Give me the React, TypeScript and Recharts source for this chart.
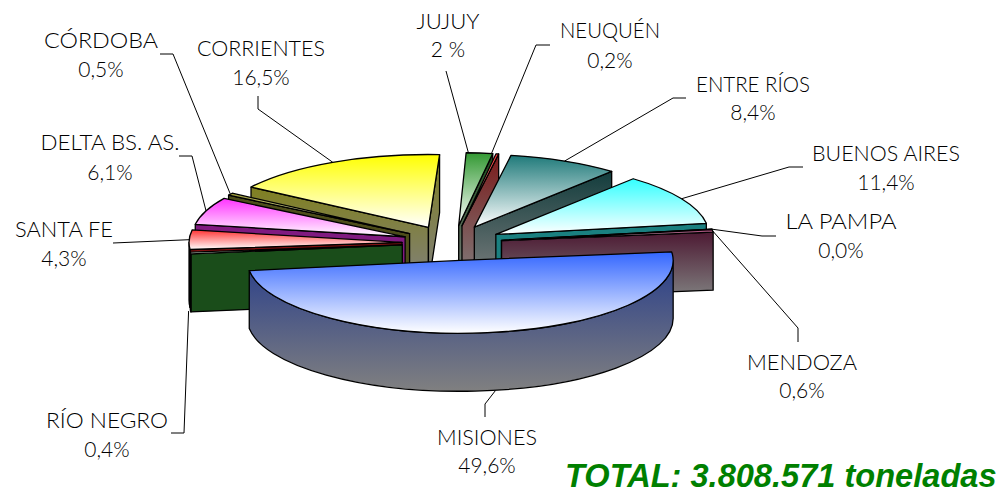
import React from "react";
import { PieChart, Pie } from "recharts";

// ---- data (in % of total) ----
const rightNames = ["JUJUY", "NEUQUÉN", "ENTRE RÍOS", "BUENOS AIRES", "LA PAMPA", "MENDOZA", "MISIONES"];
const rightValues = [2, 0.2, 8.4, 11.4, 0, 0.6, 49.6];
const rightLabels = ["2 %", "0,2%", "8,4%", "11,4%", "0,0%", "0,6%", "49,6%"];
const leftNames = ["CORRIENTES", "CÓRDOBA", "DELTA BS. AS.", "SANTA FE", "RÍO NEGRO"];
const leftValues = [16.5, 0.5, 6.1, 4.3, 0.4];
const leftLabels = ["16,5%", "0,5%", "6,1%", "4,3%", "0,4%"];
const totalText = "TOTAL: 3.808.571 toneladas";

// ---- styles ----
type Style = { top: string; side: string; sideEnd: string };
const styles: Record<string, Style> = {
  "JUJUY": { top: "#339933", side: "#1a4d1a", sideEnd: "#808080" },
  "NEUQUÉN": { top: "#ff3333", side: "#7a1a1a", sideEnd: "#808080" },
  "ENTRE RÍOS": { top: "#1f7a7a", side: "#133d3d", sideEnd: "#808080" },
  "BUENOS AIRES": { top: "#33ffff", side: "#1a8080", sideEnd: "#1a8080" },
  "LA PAMPA": { top: "#666699", side: "#333366", sideEnd: "#333366" },
  "MENDOZA": { top: "#993366", side: "#4d1a33", sideEnd: "#808080" },
  "MISIONES": { top: "#3366ff", side: "#2a3f8a", sideEnd: "#808080" },
  "CORRIENTES": { top: "#ffff00", side: "#808020", sideEnd: "#808080" },
  "CÓRDOBA": { top: "#999933", side: "#4d4d1a", sideEnd: "#4d4d1a" },
  "DELTA BS. AS.": { top: "#ff33ff", side: "#801a80", sideEnd: "#801a80" },
  "SANTA FE": { top: "#ff3333", side: "#801010", sideEnd: "#801010" },
  "RÍO NEGRO": { top: "#339933", side: "#1a4d1a", sideEnd: "#1a4d1a" },
};

// label layout: text centre, two baselines, name width, leader elbow points (outer end first)
type Lay = { x: number; y1: number; y2: number; w: number; leader: number[][]; wall?: boolean; dx?: number };
const layout: Record<string, Lay> = {
  "CÓRDOBA": { x: 101, y1: 48, y2: 77, w: 114, leader: [[160, 54], [173, 54]] },
  "CORRIENTES": { x: 261, y1: 56, y2: 85, w: 128, leader: [[258, 96], [258, 109]] },
  "DELTA BS. AS.": { x: 110, y1: 150, y2: 180, w: 139, leader: [[179, 156], [192, 156]] },
  "SANTA FE": { x: 64, y1: 237, y2: 266, w: 98, leader: [[113, 243]] },
  "JUJUY": { x: 448, y1: 29, y2: 57, w: 63, leader: [[446, 71]], dx: -11 },
  "NEUQUÉN": { x: 610, y1: 38, y2: 68, w: 100, leader: [[550, 45], [536, 45]], dx: -6 },
  "ENTRE RÍOS": { x: 753, y1: 92, y2: 120, w: 114, leader: [[686, 98], [673, 98]] },
  "BUENOS AIRES": { x: 886, y1: 161, y2: 190, w: 148, leader: [[803, 167], [789, 167]] },
  "LA PAMPA": { x: 841, y1: 229, y2: 258, w: 111, leader: [[776, 236], [762, 236]] },
  "MENDOZA": { x: 802, y1: 370, y2: 398, w: 110, leader: [[798, 342], [798, 328]] },
  "RÍO NEGRO": { x: 107, y1: 428, y2: 457, w: 122, leader: [[171, 433], [184, 433]], wall: true, dx: -2 },
  "MISIONES": { x: 487, y1: 445, y2: 473, w: 100, leader: [[485, 417], [485, 404]], wall: true, dx: 8 },
};

const CX = 454, CY = 243, LEFT_SHIFT = 4, R = 213, K = 0.342, KE = 0.365, EXPLODE = 48, DEPTH = 58;
const FONT = "Lato, 'Open Sans', sans-serif";
const rad = (d: number) => (d * Math.PI) / 180;

const geom = (p: any) => {
  let a = 90 - p.startAngle, b = 90 - p.endAngle;
  let lo = Math.min(a, b), hi = Math.max(a, b);
  if (lo < 0) { lo += 360; hi += 360; }
  const mid = (lo + hi) / 2;
  const ax = p.cx + EXPLODE * Math.sin(rad(mid));
  const ay = p.cy - EXPLODE * KE * Math.cos(rad(mid));
  const pt = (t: number, dz = 0): [number, number] => [
    ax + p.outerRadius * Math.sin(rad(t)),
    ay - p.outerRadius * K * Math.cos(rad(t)) + dz,
  ];
  return { lo, hi, mid, ax, ay, pt, r: p.outerRadius };
};

const Slice = (p: any) => {
  const { lo, hi, ax, ay, pt, r } = geom(p);
  const name = p.name ?? p.payload?.name;
  const st = styles[name];
  const id = "g" + name.replace(/[^A-Z]/g, "");
  const ry = r * K;
  const f = (v: [number, number]) => `${v[0].toFixed(2)} ${v[1].toFixed(2)}`;
  const wall = (t: number) => {
    const q = pt(t), qd = pt(t, DEPTH);
    return `M${ax} ${ay}L${f(q)}L${f(qd)}L${ax} ${ay + DEPTH}Z`;
  };
  const from = Math.max(lo, 90), to = Math.min(hi, 270);
  const outer = to > from
    ? `M${f(pt(from))}A${r} ${ry} 0 0 1 ${f(pt(to))}L${f(pt(to, DEPTH))}A${r} ${ry} 0 0 0 ${f(pt(from, DEPTH))}Z`
    : null;
  const top = `M${ax} ${ay}L${f(pt(lo))}A${r} ${ry} 0 ${hi - lo > 180 ? 1 : 0} 1 ${f(pt(hi))}Z`;
  const common = { stroke: "#000", strokeWidth: 1.3, strokeLinejoin: "round" as const };
  return (
    <g>
      <defs>
        <linearGradient id={id + "T"} x1="0" y1="0" x2="0" y2="1">
          <stop offset="0" stopColor={st.top} />
          <stop offset="1" stopColor="#ffffff" />
        </linearGradient>
        <linearGradient id={id + "S"} x1="0" y1="0" x2="0" y2="1">
          <stop offset="0" stopColor={st.side} />
          <stop offset="1" stopColor={st.sideEnd} />
        </linearGradient>
      </defs>
      {Math.sin(rad(lo)) < 0 && <path d={wall(lo)} fill={`url(#${id}S)`} {...common} />}
      {Math.sin(rad(hi)) > 0 && <path d={wall(hi)} fill={`url(#${id}S)`} {...common} />}
      {outer && <path d={outer} fill={`url(#${id}S)`} {...common} />}
      <path d={top} fill={`url(#${id}T)`} {...common} />
    </g>
  );
};

const makeLabel = (texts: string[]) => (p: any) => {
  const name = p.name ?? p.payload?.name;
  const lay = layout[name];
  const { mid, pt } = geom(p);
  const tip = pt(mid, lay.wall ? DEPTH : 0);
  const pts = [...lay.leader, [tip[0] + (lay.dx ?? 0), tip[1]]];
  const t = { x: lay.x, textAnchor: "middle" as const, fontFamily: FONT, fontWeight: 300, fontSize: 21, fill: "#000" };
  return (
    <g>
      <polyline points={pts.map((q) => q.join(",")).join(" ")} fill="none" stroke="#000" strokeWidth={1} />
      <text {...t} y={lay.y1} textLength={lay.w} lengthAdjust="spacingAndGlyphs">{name}</text>
      <text {...t} y={lay.y2}>{texts[p.index]}</text>
    </g>
  );
};

const rightData = rightNames.map((name, i) => ({ name, value: rightValues[i] }));
const leftData = leftNames.map((name, i) => ({ name, value: leftValues[i] }));
const sum = (a: number[]) => a.reduce((s, v) => s + v, 0);
const total = sum(rightValues) + sum(leftValues);
const START = 88;

export default function App() {
  return (
    <div style={{ position: "absolute", left: 0, top: 0, width: 1001, height: 491, background: "#fff" }}>
      <PieChart width={1001} height={491} margin={{ top: 0, right: 0, bottom: 0, left: 0 }}>
        <Pie
          data={leftData} dataKey="value" nameKey="name" cx={CX - LEFT_SHIFT} cy={CY} outerRadius={R} innerRadius={0}
          startAngle={START - 1} endAngle={START - 1 + (360 * sum(leftValues)) / total} paddingAngle={0}
          shape={Slice} label={makeLabel(leftLabels)} labelLine={false} isAnimationActive={false}
        />
        <Pie
          data={rightData} dataKey="value" nameKey="name" cx={CX} cy={CY} outerRadius={R} innerRadius={0}
          startAngle={START} endAngle={START - (360 * sum(rightValues)) / total} paddingAngle={0}
          shape={Slice} label={makeLabel(rightLabels)} labelLine={false} isAnimationActive={false}
        />
        <text x={565} y={487} fontFamily="'Liberation Sans', Arial, sans-serif" fontWeight="bold" fontStyle="italic" fontSize={32.6} fill="#008000">
          {totalText}
        </text>
      </PieChart>
    </div>
  );
}
